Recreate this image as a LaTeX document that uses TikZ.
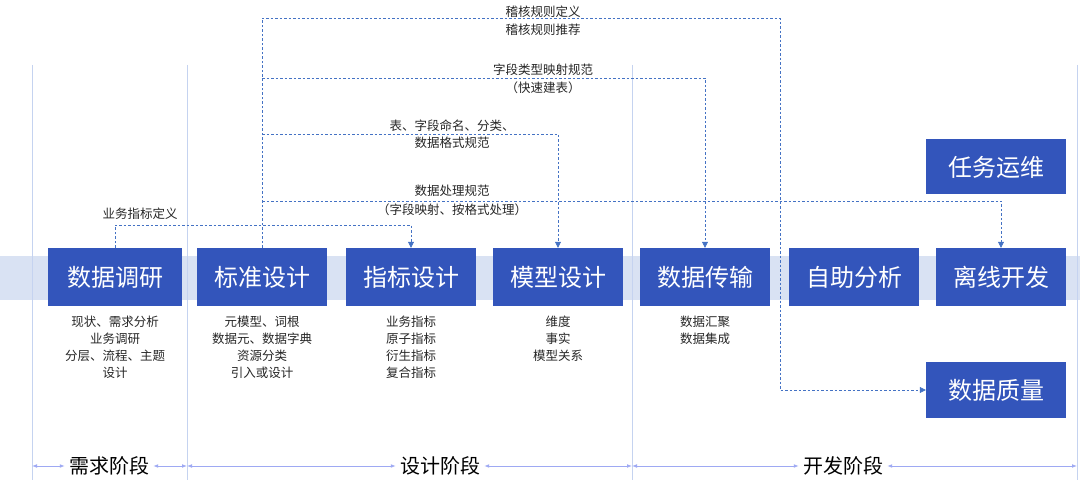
\documentclass[tikz,border=0pt]{standalone}
\usepackage{fontspec}
\setmainfont{Noto Sans CJK SC}
\usetikzlibrary{positioning,arrows.meta}
\definecolor{boxblue}{HTML}{3355BB}
\definecolor{band}{HTML}{D9E2F3}
\definecolor{rule}{HTML}{C5D3F0}
\definecolor{flowblue}{HTML}{4472C4}
\tikzset{
  stage/.style={rectangle, fill=boxblue, text=white, minimum width=130pt, minimum height=58pt, font=\fontsize{24}{24}\selectfont, inner sep=0pt},
  note/.style={align=center, font=\fontsize{12.5}{17}\selectfont, text=black!85},
  flow/.style={draw=flowblue, dash pattern=on 2.5pt off 2pt, line width=0.6pt, -{Triangle[length=6pt,width=6pt]}},
  phase/.style={draw=rule!80!blue, line width=0.8pt, {Latex[length=5pt]}-{Latex[length=5pt]}}
}
\begin{document}
\begin{tikzpicture}[x=1pt, y=-1pt]
    \useasboundingbox (0,0) rectangle (1080,497);
    % Background band
    \fill[band] (0,256) rectangle (1080,300);
    % Phase dividers
    \foreach \x in {32,187,632,1077}
        \draw[rule, line width=0.8pt] (\x,65) -- (\x,480);

    % Stage boxes
    \node[stage, minimum width=134pt] (survey) at (115,277) {数据调研};
    \node[stage] (std) at (262,277) {标准设计};
    \node[stage] (metric) at (411,277) {指标设计};
    \node[stage] (model) at (558,277) {模型设计};
    \node[stage] (trans) at (705,277) {数据传输};
    \node[stage] (self) at (854,277) {自助分析};
    \node[stage] (offline) at (1001,277) {离线开发};
    \node[stage, minimum width=140pt, minimum height=55pt] (ops) at (996,167) {任务运维};
    \node[stage, minimum width=140pt, minimum height=56pt] (qual) at (996,390) {数据质量};

    % Notes under boxes
    \node[note, anchor=north] (n1) at (115,312) {现状、需求分析\\业务调研\\分层、流程、主题\\设计};
    \node[note, anchor=north] (n2) at (262,312) {元模型、词根\\数据元、数据字典\\资源分类\\引入或设计};
    \node[note, anchor=north] (n3) at (411,312) {业务指标\\原子指标\\衍生指标\\复合指标};
    \node[note, anchor=north] (n4) at (558,312) {维度\\事实\\模型关系};
    \node[note, anchor=north] (n5) at (705,312) {数据汇聚\\数据集成};

    % Dashed flows
    \coordinate (t1) at (115,225);
    \draw[flow] (survey.north) -- (t1) -- (metric.north |- t1) -- (metric.north);
    \node[note, anchor=south] at (140,223) {业务指标定义};

    \coordinate (top) at (262,18);
    \coordinate (turn) at (780,18);
    \draw[flow] (std.north) -- (top) -- (turn) -- (turn |- qual.west) -- (qual.west);
    \node[note] at (543,12) {稽核规则定义};
    \node[note] at (543,30) {稽核规则推荐};

    \coordinate (b1) at (262,78);
    \draw[flow] (b1) -- (trans.north |- b1) -- (trans.north);
    \node[note] at (543,70) {字段类型映射规范};
    \node[note] at (543,88) {（快速建表）};

    \coordinate (b2) at (262,134);
    \draw[flow] (b2) -- (model.north |- b2) -- (model.north);
    \node[note] at (452,126) {表、字段命名、分类、};
    \node[note] at (452,143) {数据格式规范};

    \coordinate (b3) at (262,201);
    \draw[flow] (b3) -- (offline.north |- b3) -- (offline.north);
    \node[note] at (452,191) {数据处理规范};
    \node[note] at (452,210) {（字段映射、按格式处理）};

    % Phases
    \node[font=\fontsize{20}{20}\selectfont, fill=white, inner sep=4pt] (p1) at (109,466) {需求阶段};
    \node[font=\fontsize{20}{20}\selectfont, fill=white, inner sep=4pt] (p2) at (440,466) {设计阶段};
    \node[font=\fontsize{20}{20}\selectfont, fill=white, inner sep=4pt] (p3) at (843,466) {开发阶段};
    \draw[phase] (32,466) -- (p1.west);
    \draw[phase] (p1.east) -- (187,466);
    \draw[phase] (187,466) -- (p2.west);
    \draw[phase] (p2.east) -- (632,466);
    \draw[phase] (632,466) -- (p3.west);
    \draw[phase] (p3.east) -- (1077,466);
\end{tikzpicture}
\end{document}
